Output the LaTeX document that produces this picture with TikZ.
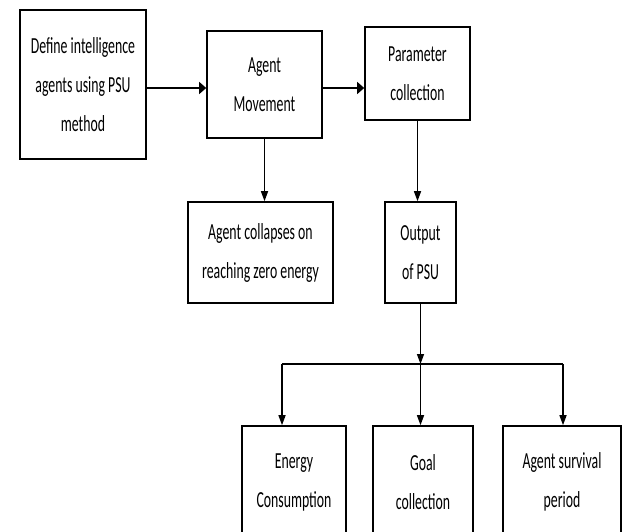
\documentclass[tikz,border=0pt]{standalone}
\usepackage{fontspec}
\usepackage{tikz}
\usetikzlibrary{arrows.meta}
\newfontfamily\flowfont[FakeStretch=0.6]{Carlito}
\tikzset{
    flow-box/.style = {draw=black, fill=white, line width=1.6pt, rectangle, inner sep=0pt, align=center, font=\flowfont\fontsize{23}{39}\selectfont},
    h-arrow/.style = {line width=1.4pt, -{Triangle[length=7pt,width=12pt]}},
    v-arrow/.style = {line width=1.4pt, -{Triangle[length=10pt,width=7pt]}},
}

\begin{document}
\begin{tikzpicture}[x=1pt, y=-1pt]
\useasboundingbox (0,0) rectangle (622,531);
\clip (0,0) rectangle (622,531);
\node [flow-box, minimum width=126pt, minimum height=149pt] (define) at (83,84.5) {Define intelligence\\agents using PSU\\method};
\node [flow-box, minimum width=115pt, minimum height=107pt] (move) at (264.5,84.5) {Agent\\Movement};
\node [flow-box, minimum width=105pt, minimum height=93pt] (param) at (417.5,73.5) {Parameter\\collection};
\node [flow-box, minimum width=145pt, minimum height=101pt] (collapse) at (260.5,252.5) {Agent collapses on\\reaching zero energy};
\node [flow-box, minimum width=71pt, minimum height=101pt] (output) at (420.5,252.5) {Output\\of PSU};
\node [flow-box, minimum width=104pt, minimum height=112pt] (energy) at (294,482) {Energy\\Consumption};
\node [flow-box, minimum width=100pt, minimum height=112pt] (goal) at (423,482) {Goal\\collection};
\node [flow-box, minimum width=118pt, minimum height=112pt] (survival) at (562,482) {Agent survival\\period};
\coordinate (bus-left) at (282,364);
\coordinate (bus-right) at (563,364);

\draw [h-arrow] (define.east |- 0,88) -- (move.west |- 0,88);
\draw [h-arrow] (move.east |- 0,88) -- (param.west |- 0,88);
\draw [v-arrow] (move.south) -- (move.south |- collapse.north);
\draw [v-arrow] (param.south) -- (param.south |- output.north);
\draw [v-arrow] (output.south) -- (output.south |- bus-left);
\draw [line width=1.4pt] (bus-left) -- (bus-right);
\draw [v-arrow] (bus-left) -- (bus-left |- energy.north);
\draw [v-arrow] (output.south |- bus-left) -- (output.south |- goal.north);
\draw [v-arrow] (bus-right) -- (bus-right |- survival.north);
\end{tikzpicture}
\end{document}
